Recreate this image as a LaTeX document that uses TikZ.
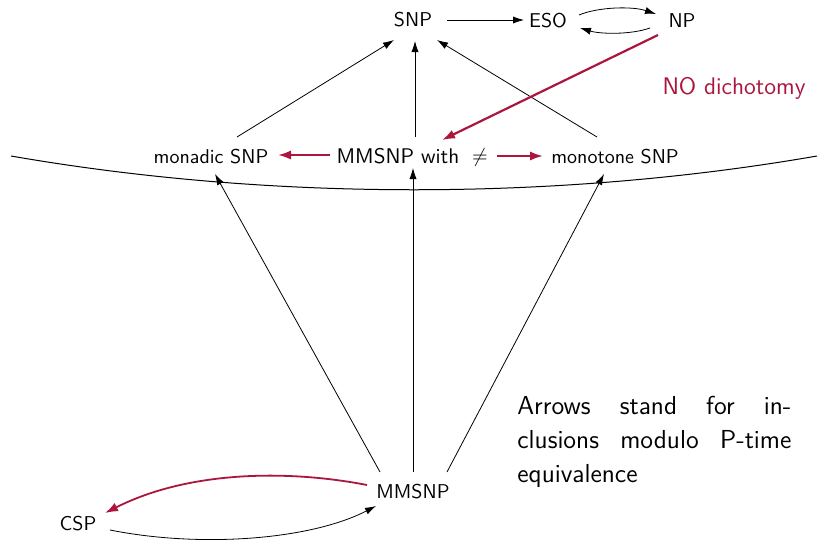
\documentclass[tikz,border=0pt]{standalone}
\usepackage{fontspec}
\usetikzlibrary{arrows.meta,calc}
\definecolor{crimson}{RGB}{172,22,62}
\begin{document}
\begin{tikzpicture}[x=0.5pt,y=-0.5pt,
  cls/.style={font=\sffamily\fontsize{10}{12}\selectfont, inner sep=1pt},
  incl/.style={-{Latex[length=5.5pt,width=3.6pt]}, line width=0.4pt},
  sep/.style={-{Latex[length=6.5pt,width=4.6pt]}, line width=1.1pt, crimson},
]
\useasboundingbox (0,0) rectangle (818,541);

% classes
\node[cls] (snp) at (413,20) {SNP};
\node[cls] (eso) at (548,21) {ESO};
\node[cls] (np)  at (682,21) {NP};
\node[font=\sffamily\fontsize{12}{14}\selectfont, text=crimson] (nodich) at (734,88) {NO dichotomy};

\node[cls] (mon) at (211,157) {monadic SNP};
\node[cls, font=\sffamily\fontsize{10.6}{12}\selectfont] (mmw) at (398,156) {MMSNP with};
\node[cls] (neq) at (480,157) {$\neq$};
\node[cls] (mono) at (615,157) {monotone SNP};

\node[cls] (mmsnp) at (413,492) {MMSNP};
\node[cls] (csp) at (78,524) {CSP};

% the line separating dichotomy from no dichotomy
\draw[line width=0.5pt] (11,156) .. controls (270,201) and (558,201) .. (817,156);

% inclusions at the top
\draw[incl] (447,20) -- (524,20);
\draw[incl] (579,15) .. controls (598,7) and (632,6) .. (656,14);
\draw[incl] (650,28) .. controls (630,35) and (600,34) .. (580,28);

\draw[incl] (237,137) -- (394,40);
\draw[incl] (415,137) -- (415,41);
\draw[incl] (597,137) -- (437,40);

\draw[sep] (658,35) -- (442,140);

% middle row
\draw[sep] (330,155) -- (278,155);
\draw[sep] (497,156) -- (543,156);

% from MMSNP upwards
\draw[incl] (380,472) -- (215,174);
\draw[incl] (413,472) -- (413,168);
\draw[incl] (447,472) -- (604,174);

% MMSNP and CSP
\draw[sep, line width=0.9pt] (367,485) .. controls (290,470) and (190,470) .. (105,513);
\draw[incl] (110,530) .. controls (200,548) and (310,540) .. (376,506);

% explanation
\node[font=\sffamily\fontsize{13}{17}\selectfont, text width=137pt, align=left, anchor=north west, inner sep=0pt] (note) at (517,396)
  {Arrows\hfill stand\hfill for\hfill in-\\clusions\hfill modulo\hfill P-time\\equivalence};
\end{tikzpicture}
\end{document}
